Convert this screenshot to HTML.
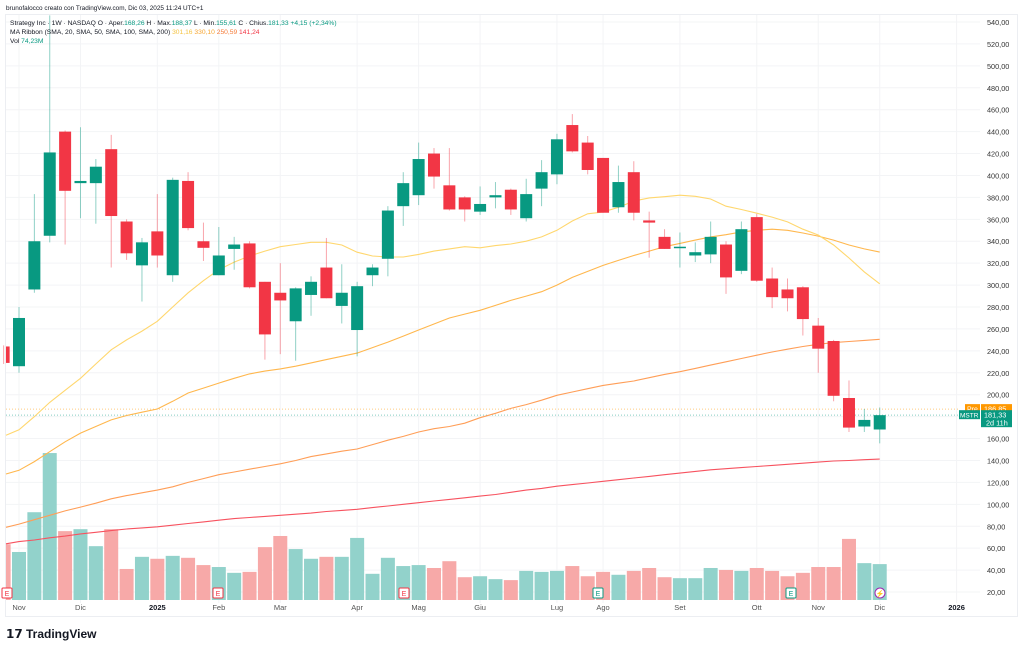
<!DOCTYPE html>
<html><head><meta charset="utf-8"><style>
html,body{margin:0;padding:0;background:#fff;}
svg{display:block;font-family:"Liberation Sans",sans-serif;}
</style></head><body>
<svg id="chart" width="1024" height="649" viewBox="0 0 1024 649" xmlns="http://www.w3.org/2000/svg">
<rect x="0" y="0" width="1024" height="649" fill="#fff"/>
<rect x="5.5" y="14.5" width="1012" height="602" fill="none" stroke="#eceef2"/>
<g id="grid"></g>
<g id="vol"></g>
<g id="mas"></g>
<g id="candles"></g>
<g id="yaxis"></g>
<g id="xaxis"></g>
<g font-size="6.7" fill="#131722">
<text x="6" y="10" font-size="6.4">brunofalocco creato con TradingView.com, Dic 03, 2025 11:24 UTC+1</text>
<text x="10" y="25">Strategy Inc · 1W · NASDAQ  O · Aper.<tspan fill="#089981">168,26</tspan>  H · Max.<tspan fill="#089981">188,37</tspan>  L · Min.<tspan fill="#089981">155,61</tspan>  C · Chius.<tspan fill="#089981">181,33</tspan>  <tspan fill="#089981">+4,15 (+2,34%)</tspan></text>
<text x="10" y="34">MA Ribbon (SMA, 20, SMA, 50, SMA, 100, SMA, 200)  <tspan fill="#f5c342">301,16</tspan>  <tspan fill="#f7a531">330,10</tspan>  <tspan fill="#f57c3a">250,59</tspan>  <tspan fill="#f23645">141,24</tspan></text>
<text x="10" y="43">Vol  <tspan fill="#089981">74,23M</tspan></text>
</g>
<g>
<text x="6" y="638" font-size="12" font-weight="bold" fill="#131722">𝟭𝟳</text>
<text x="26" y="638" font-size="12" font-weight="bold" fill="#131722">TradingView</text>
</g>
</svg>
<script>
const opens=[244,226,296,345,440,393,393,424,358,318,349,309,395,340,309,333,338,303,293,267,291,316,281,259,309,324,372,382,420,391,380,367,380,387,361,388,401,446,430,416,371,403,359,344,334,327,328,337,313,362,306,296,298,263,249,197,171,168.26];
const highs=[245,280,383,546,441,444,415,437,360,343,383,398,403,357,353,344,340,303,320,298,308,343,319,303,319,372,403,430,425,425,381,390,394,388,397,414,438,456,436,416,409,413,367,351,348,339,358,340,358,365,316,306,299,270,250,213,187,188.37];
const lows=[228,220,293,339,337,361,356,316,323,285,316,303,350,322,309,314,297,232,237,231,272,288,265,235,299,308,354,373,388,368,358,364,370,364,358,372,392,421,401,366,366,359,325,333,316,321,320,292,310,303,279,276,254,220,194,166,166,155.61];
const closes=[229,270,340,421,386,395,408,363,329,339,327,396,352,334,327,337,298,255,286,297,303,288,293,299,316,368,393,415,399,369,369,374,382,369,383,403,433,422,405,366,394,366,357,333,335,330,344,307,351,304,289,288,269,242,199,170,177,181.33];
const volumes=[115,99,181,303,142,146,111,146,64,89,85,91,87,72,68,56,58,109,132,105,85,89,89,128,54,87,70,72,66,80,47,49,43,41,60,58,60,70,49,58,52,60,66,47,45,45,66,62,60,66,60,49,56,68,68,126,76,74];
const sma20=[163,168,180,193,204,215,228,241,250,258,267,280,293,304,314,321,326.5,331,335,337,339,339,336.6,330,326.5,325.6,325.6,328,331,333,335,334,336,337.5,340,344,350,358.5,365,366.7,371,376.6,379.5,380.6,382,381,378.5,372,369,365.6,362,357.6,351,345.7,336.6,324.7,312,301.16];
const sma50=[127.7,131,139,148,157,165,171,177,181,184,187,194,201.6,206,210.6,215,219,221.5,223.5,226,229,232,235,238,243,248,253.5,259,264.5,270,273.5,277,281.5,286,290,294,300,307,312.5,318,322.5,327,331,335,338,341,344,346,348.5,350,351,350,347.5,344.7,341,336.6,333,330.1];
const sma100=[79,82,86,90,94,97.5,101,105,108,110.5,113,116,120,123.5,127,129.5,132,134.5,137,140,143.5,146,148.5,150.5,154.5,158.5,162,166,169,171,174,179,183,187.5,191,195,199.5,202.5,205.5,208.5,210.5,212.5,215.5,218.5,221,224,227,230,233,236,239,241.5,244,246,247.5,248.5,249.5,250.59];
const sma200=[64,66,67.5,69.5,71,73,74.5,76,77.5,78.5,79.5,81,82.5,84,85.5,87,88,89,90,91,92,93.5,94.5,95.5,97,98.5,100,101.5,103,104.5,106,107.5,109,111,113,114.5,116.5,118,119.5,121,122.5,124,125.5,127,128.5,130,131.5,132.5,133.5,134.5,135.5,136.5,137.5,138.5,139.5,140,140.7,141.24];
const priceTicks=[540,520,500,480,460,440,420,400,380,360,340,320,300,280,260,240,220,200,180,160,140,120,100,80,60,40,20];
const monthLabels=["Nov","Dic","2025","Feb","Mar","Apr","Mag","Giu","Lug","Ago","Set","Ott","Nov","Dic","2026"];
const monthBar=[1,5,10,14,18,23,27,31,36,39,44,49,53,57,62];

const NS="http://www.w3.org/2000/svg";
const Y=p=>22+(540-p)*1.0962;
const X=i=>19+(i-1)*15.37;
const VB=600, VK=0.485;
function mk(tag,attrs,parent){const e=document.createElementNS(NS,tag);for(const k in attrs)e.setAttribute(k,attrs[k]);parent.appendChild(e);return e;}
const grid=document.getElementById('grid'),yax=document.getElementById('yaxis'),xax=document.getElementById('xaxis');
priceTicks.forEach(p=>{
  const l=mk('line',{x1:6,x2:980,y1:Y(p),y2:Y(p),stroke:'#f3f4f6'},grid);
  
  
  const t=mk('text',{x:987,y:Y(p)+3,'font-size':7.3,fill:'#333'},yax);
  t.textContent=p.toFixed(2).replace('.',',');
  
  
});
monthLabels.forEach((m,k)=>{
  const x=X(monthBar[k]);
  const l=mk('line',{x1:x,x2:x,y1:15,y2:603,stroke:'#f3f4f6'},grid);
  
  
  const bold=(m==="2025"||m==="2026");
  const t=mk('text',{x:x,y:610,'font-size':7.5,'text-anchor':'middle',fill:bold?'#131722':'#555','font-weight':bold?'bold':'normal'},xax);
  t.textContent=m;
  
  
});
const vol=document.getElementById('vol');
volumes.forEach((v,i)=>{
  const up=closes[i]>=opens[i];
  const h=v*VK;
  const x0=Math.max(6,X(i)-7);
  const r=mk('rect',{x:x0,y:VB-h,width:X(i)+7-x0,height:h,fill:up?'#92d2cb':'#f7a9a8'},vol);
  
  
});
const mas=document.getElementById('mas');
[[sma200,'#f7525f','sma-200-line'],[sma100,'#ff9e57','sma-100-line'],[sma50,'#ffb74d','sma-50-line'],[sma20,'#ffd76e','sma-20-line']].forEach(([arr,c,n])=>{
  const pts=arr.map((v,i)=>Math.max(6,X(i)).toFixed(1)+','+Y(v).toFixed(1)).join(' ');
  const pl=mk('polyline',{points:pts,fill:'none',stroke:c,'stroke-width':1.1},mas);
  
  
});
const cg=document.getElementById('candles');
opens.forEach((o,i)=>{
  const c=closes[i],up=c>=o,col=up?'#089981':'#f23645';
  const x=X(i);
  const g=mk('g',{},cg);
  
  
  mk('line',{x1:x,x2:x,y1:Y(highs[i]),y2:Y(lows[i]),stroke:col,'stroke-opacity':0.45,'stroke-width':1},g);
  const top=Y(Math.max(o,c)),bot=Y(Math.min(o,c));
  const x0=Math.max(6,x-6);
  mk('rect',{x:x0,y:top,width:x+6-x0,height:Math.max(1.5,bot-top),fill:col},g);
});
const last=closes[closes.length-1], pre=186.85;
mk('line',{x1:6,x2:958,y1:Y(pre),y2:Y(pre),stroke:'#ff9800','stroke-dasharray':'1,2','stroke-opacity':0.5},grid);
mk('line',{x1:6,x2:958,y1:Y(last),y2:Y(last),stroke:'#089981','stroke-dasharray':'1,2','stroke-opacity':0.5},grid);
const pg=mk('g',{},yax);


mk('rect',{x:965,y:Y(pre)-5,width:15,height:10,fill:'#ff9800'},pg);
mk('rect',{x:981,y:Y(pre)-5,width:31,height:10,fill:'#ff9800'},pg);
let t=mk('text',{x:967,y:Y(pre)+2.5,'font-size':7,fill:'#fff'},pg);t.textContent='Pre';
t=mk('text',{x:984,y:Y(pre)+2.5,'font-size':7.3,fill:'#fff'},pg);t.textContent=pre.toFixed(2).replace('.',',');
const lg=mk('g',{},yax);


mk('rect',{x:959,y:Y(last)-5,width:21,height:9,fill:'#089981'},lg);
mk('rect',{x:981,y:Y(last)-5,width:31,height:17,fill:'#089981'},lg);
t=mk('text',{x:960,y:Y(last)+2.5,'font-size':6.5,fill:'#fff'},lg);t.textContent='MSTR';
t=mk('text',{x:984,y:Y(last)+2.5,'font-size':7.3,fill:'#fff'},lg);t.textContent=last.toFixed(2).replace('.',',');
t=mk('text',{x:986,y:Y(last)+10.5,'font-size':7.3,fill:'#fff'},lg);t.textContent='2d 11h';
[[7,'#f23645','E'],[218,'#f23645','E'],[404,'#f23645','E'],[598,'#089981','E'],[791,'#089981','E'],[880,'#9c27b0','⚡']].forEach(([x,c,s])=>{
  const g=mk('g',{},xax);
  
  
  mk('rect',{x:x-5,y:588,width:10,height:10,rx:s==='E'?1:5,fill:'#fff',stroke:c,'stroke-width':1},g);
  const tt=mk('text',{x:x,y:596,'font-size':7,'text-anchor':'middle',fill:c},g);tt.textContent=s;
});
</script>
</body></html>
